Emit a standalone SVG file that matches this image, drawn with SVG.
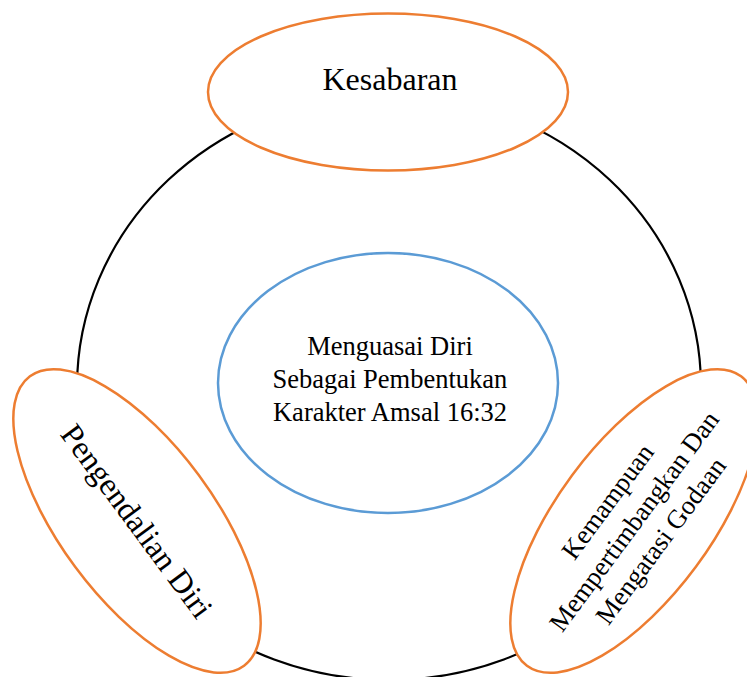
<svg xmlns="http://www.w3.org/2000/svg" width="747" height="677" viewBox="0 0 747 677">
<style>
.ring{fill:none;stroke:#000;stroke-width:2.2}
.orange{fill:#fff;stroke:#ED7D31;stroke-width:2.5}
.blue{fill:#fff;stroke:#5B9BD5;stroke-width:2.5}
text{font-family:"Liberation Serif","Times New Roman",serif;fill:#000;text-anchor:middle}
.big{font-size:32px}
.mid{font-size:26.5px}
</style>
<rect width="747" height="677" fill="#fff"/>
<g id="connectors">
<ellipse class="ring" cx="389" cy="387" rx="312" ry="293"/>
</g>
<g id="node-center">
<ellipse class="blue" cx="388" cy="383" rx="170" ry="130"/>
<text class="mid" x="390" y="355">Menguasai Diri</text>
<text class="mid" x="390" y="388">Sebagai Pembentukan</text>
<text class="mid" x="390" y="421">Karakter Amsal 16:32</text>
</g>
<g id="node-kesabaran">
<ellipse class="orange" cx="388" cy="92" rx="180" ry="78.5"/>
<text class="big" x="390" y="90">Kesabaran</text>
</g>
<g id="node-pengendalian" transform="translate(137,521) rotate(53.5)">
<ellipse class="orange" cx="0" cy="0" rx="180" ry="77"/>
<text class="big" x="0" y="11">Pengendalian Diri</text>
</g>
<g id="node-kemampuan" transform="translate(634,521) rotate(-53.5)">
<ellipse class="orange" cx="0" cy="0" rx="180" ry="77"/>
<text class="mid" x="0" y="-24">Kemampuan</text>
<text class="mid" x="0" y="9">Mempertimbangkan Dan</text>
<text class="mid" x="0" y="42">Mengatasi Godaan</text>
</g>
</svg>
